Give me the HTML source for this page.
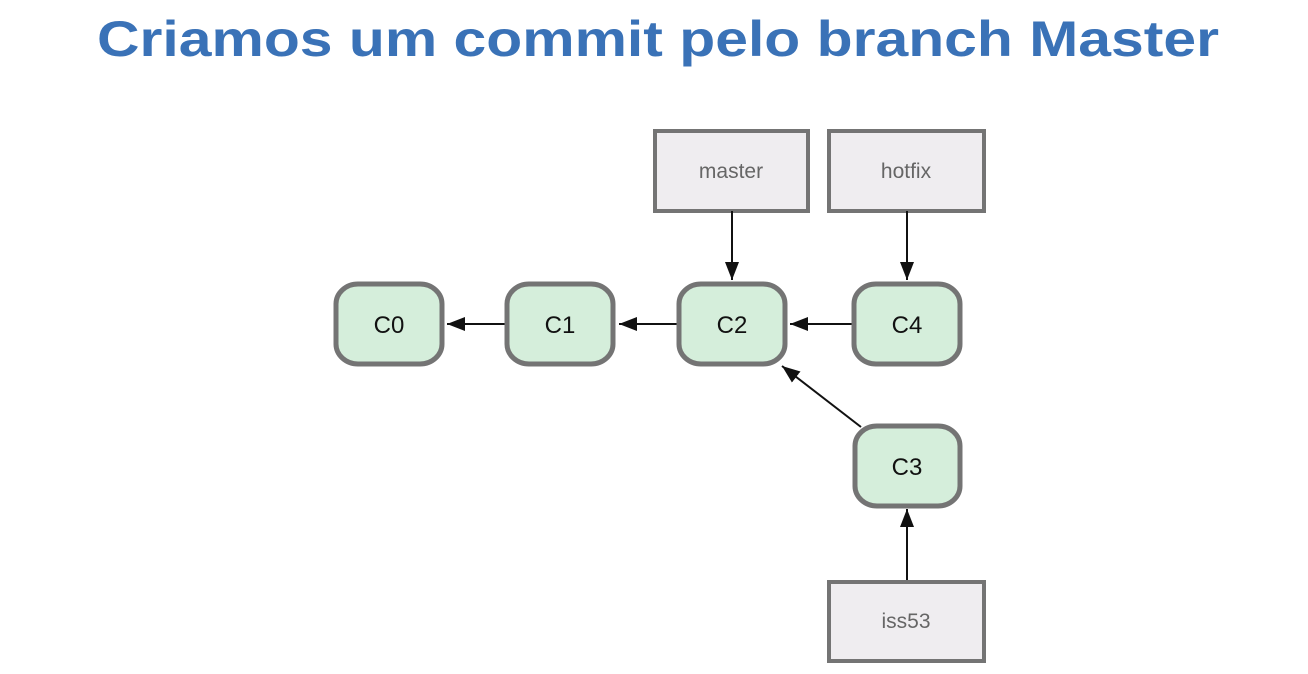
<!DOCTYPE html>
<html><head><meta charset="utf-8"><style>
html,body{margin:0;padding:0;background:#fff;}
svg{display:block}
</style></head><body>
<svg width="1308" height="674" viewBox="0 0 1308 674" xmlns="http://www.w3.org/2000/svg">
<defs>
<marker id="ah" markerWidth="10" markerHeight="10" refX="9" refY="5" orient="auto" markerUnits="userSpaceOnUse">
<path d="M0,0 L10,5 L0,10 z" fill="#111"/>
</marker>
<marker id="ah2" viewBox="0 0 10 10" markerWidth="18" markerHeight="14" refX="10" refY="5" orient="auto" markerUnits="userSpaceOnUse" preserveAspectRatio="none">
<path d="M0,0 L10,5 L0,10 z" fill="#111"/>
</marker>
</defs>
<text x="658" y="56" text-anchor="middle" font-family="Liberation Sans, sans-serif" font-weight="bold" font-size="50" fill="#3a72b7" textLength="1122" lengthAdjust="spacingAndGlyphs">Criamos um commit pelo branch Master</text>

<g fill="#efedf0" stroke="#747474" stroke-width="4">
<rect x="655" y="131" width="153" height="80"/>
<rect x="829" y="131" width="155" height="80"/>
<rect x="829" y="582" width="155" height="79"/>
</g>
<g font-family="Liberation Sans, sans-serif" font-size="21" fill="#666" text-anchor="middle">
<text x="731" y="178">master</text>
<text x="906" y="178">hotfix</text>
<text x="906" y="628">iss53</text>
</g>

<g stroke="#111" stroke-width="2" fill="none">
<line x1="732" y1="211" x2="732" y2="280" marker-end="url(#ah2)"/>
<line x1="907" y1="211" x2="907" y2="280" marker-end="url(#ah2)"/>
<line x1="907" y1="580" x2="907" y2="509" marker-end="url(#ah2)"/>
<line x1="505" y1="324" x2="447" y2="324" marker-end="url(#ah2)"/>
<line x1="677" y1="324" x2="619" y2="324" marker-end="url(#ah2)"/>
<line x1="852" y1="324" x2="790" y2="324" marker-end="url(#ah2)"/>
<line x1="861" y1="427" x2="782" y2="366" marker-end="url(#ah2)"/>
</g>

<g fill="#d5eedb" stroke="#747474" stroke-width="5">
<rect x="336" y="284" width="106" height="80" rx="22" ry="20"/>
<rect x="507" y="284" width="106" height="80" rx="22" ry="20"/>
<rect x="679" y="284" width="106" height="80" rx="22" ry="20"/>
<rect x="854" y="284" width="106" height="80" rx="22" ry="20"/>
<rect x="855" y="426" width="105" height="80" rx="22" ry="20"/>
</g>
<g font-family="Liberation Sans, sans-serif" font-size="24" fill="#111" text-anchor="middle">
<text x="389" y="333">C0</text>
<text x="560" y="333">C1</text>
<text x="732" y="333">C2</text>
<text x="907" y="333">C4</text>
<text x="907" y="475">C3</text>
</g>
</svg>
</body></html>
